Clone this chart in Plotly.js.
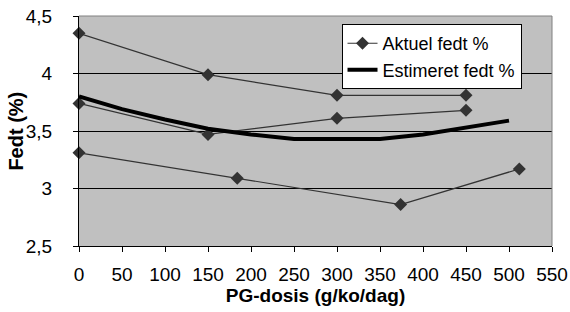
<!DOCTYPE html>
<html><head><meta charset="utf-8">
<script src="https://cdn.plot.ly/plotly-3.0.1.min.js"></script>
<style>html,body{margin:0;padding:0;background:#fff}#c{width:570px;height:312px}</style>
</head><body><div id="c"></div>
<script>
// Aktuel fedt % – three herds
var akt1X = [0, 150, 300, 450];
var akt1Y = [4.35, 3.99, 3.81, 3.81];
var akt2X = [0, 150, 300, 450];
var akt2Y = [3.74, 3.47, 3.61, 3.68];
var akt3X = [0, 184, 374, 512];
var akt3Y = [3.31, 3.09, 2.86, 3.17];
// Estimeret fedt %
var estX = [0, 50, 100, 150, 200, 250, 300, 350, 400, 450, 500];
var estY = [3.80, 3.69, 3.60, 3.52, 3.47, 3.43, 3.43, 3.43, 3.47, 3.53, 3.59];
var yTickVals = [2.5, 3, 3.5, 4, 4.5];
var yTickText = ["2,5", "3", "3,5", "4", "4,5"];
var xTickVals = [0, 50, 100, 150, 200, 250, 300, 350, 400, 450, 500, 550];

var FAM = "'Liberation Sans', Arial, sans-serif";
var aktStyle = {mode: 'lines+markers', line: {color: '#333333', width: 1.2},
  marker: {symbol: 'diamond', size: 10, color: '#333333'}, legendgroup: 'akt', cliponaxis: false};
function akt(x, y, show) {
  return Object.assign({x: x, y: y, type: 'scatter', name: 'Aktuel fedt %', showlegend: show}, aktStyle);
}
var data = [
  akt(akt1X, akt1Y, true),
  akt(akt2X, akt2Y, false),
  akt(akt3X, akt3Y, false),
  {x: estX, y: estY, type: 'scatter', mode: 'lines', name: 'Estimeret fedt %',
   line: {color: '#000000', width: 4}}
];
var font = {family: FAM, size: 19, color: '#000'};
var layout = {
  width: 570, height: 312,
  margin: {l: 79, r: 18, t: 16, b: 66},
  paper_bgcolor: '#ffffff', plot_bgcolor: '#c0c0c0',
  font: font,
  showlegend: true,
  legend: {x: 0.555, y: 0.965, xanchor: 'left', yanchor: 'top', bgcolor: '#ffffff',
    bordercolor: '#000', borderwidth: 1, font: {family: FAM, size: 18, color: '#000'},
    tracegroupgap: 0},
  xaxis: {range: [0, 550], tickvals: xTickVals, ticks: 'outside', ticklen: 5, tickcolor: '#000',
    ticklabelstandoff: 6,
    showline: true, linecolor: '#000', linewidth: 1, showgrid: false, zeroline: false,
    tickfont: font,
    title: {text: '<b>PG-dosis (g/ko/dag)</b>', font: {family: FAM, size: 19, color: '#000'}, standoff: 4}},
  yaxis: {range: [2.5, 4.5], tickvals: yTickVals, ticktext: yTickText, ticks: 'outside', ticklen: 5,
    ticklabelstandoff: 17,
    tickcolor: '#000', showline: true, linecolor: '#000', linewidth: 1, showgrid: true,
    gridcolor: '#000', gridwidth: 1, zeroline: false, tickfont: font},
  annotations: [
    {text: '<b>Fedt (%)</b>', xref: 'paper', yref: 'paper', x: -0.134, y: 0.5,
     xanchor: 'center', yanchor: 'middle', textangle: -90, showarrow: false,
     font: {family: FAM, size: 20, color: '#000'}}
  ],
  shapes: [
    {type: 'line', xref: 'paper', yref: 'paper', x0: 0, x1: 1, y0: 1, y1: 1, line: {color: '#808080', width: 1}},
    {type: 'line', xref: 'paper', yref: 'paper', x0: 1, x1: 1, y0: 0, y1: 1, line: {color: '#808080', width: 1}}
  ]
};
Plotly.newPlot('c', data, layout, {displayModeBar: false, staticPlot: true});
</script></body></html>
